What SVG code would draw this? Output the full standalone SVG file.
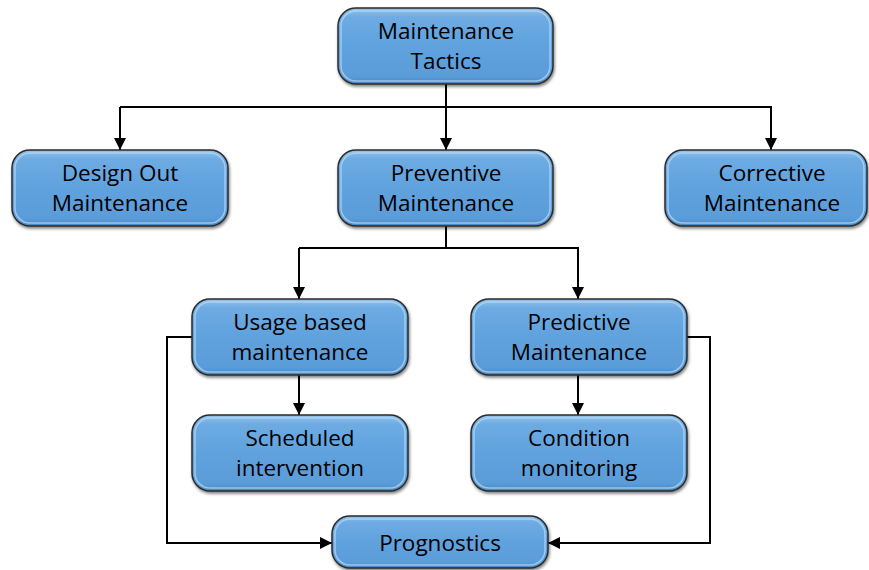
<svg xmlns="http://www.w3.org/2000/svg" width="869" height="570" viewBox="0 0 869 570">
  <defs>
    <linearGradient id="boxFill" x1="0" y1="0" x2="0" y2="1">
      <stop offset="0" stop-color="#93c3ec"/>
      <stop offset="0.12" stop-color="#6eabe2"/>
      <stop offset="0.5" stop-color="#5fa2de"/>
      <stop offset="0.9" stop-color="#5a9cd9"/>
      <stop offset="1" stop-color="#4a85bd"/>
    </linearGradient>
    <filter id="shadow" x="-10%" y="-20%" width="120%" height="150%">
      <feGaussianBlur in="SourceAlpha" stdDeviation="1.5"/>
      <feOffset dx="1" dy="2" result="blur"/>
      <feComponentTransfer><feFuncA type="linear" slope="0.5"/></feComponentTransfer>
      <feMerge><feMergeNode/><feMergeNode in="SourceGraphic"/></feMerge>
    </filter>
    <marker id="arrow" viewBox="0 0 12 12" refX="12" refY="6" markerWidth="12" markerHeight="12" markerUnits="userSpaceOnUse" orient="auto">
      <path d="M0,0 L12,6 L0,12 Z" fill="#000"/>
    </marker>
  </defs>
  <style>
    .box { fill: url(#boxFill); stroke: #2b2b2b; stroke-width: 1.5; filter: url(#shadow); }
    .hl { fill: none; stroke: #b9dcf7; stroke-width: 1.5; opacity: 0.7; }
    .lbl { font-family: "Open Sans", "Liberation Sans", sans-serif; font-size: 22.5px; fill: #000; text-anchor: middle; }
    .wire { fill: none; stroke: #000; stroke-width: 2; }
  </style>

  <g id="connectors">
    <polyline class="wire" points="446,84 446,107"/>
    <polyline class="wire" points="120,107 771,107 771,150" marker-end="url(#arrow)"/>
    <line class="wire" x1="120" y1="107" x2="120" y2="150" marker-end="url(#arrow)"/>
    <line class="wire" x1="446" y1="107" x2="446" y2="150" marker-end="url(#arrow)"/>
    <polyline class="wire" points="446,226 446,248"/>
    <polyline class="wire" points="299,248 578,248 578,299" marker-end="url(#arrow)"/>
    <line class="wire" x1="299" y1="248" x2="299" y2="299" marker-end="url(#arrow)"/>
    <line class="wire" x1="299" y1="375" x2="299" y2="415" marker-end="url(#arrow)"/>
    <line class="wire" x1="578" y1="375" x2="578" y2="415" marker-end="url(#arrow)"/>
    <polyline class="wire" points="192,337 167,337 167,543 332,543" marker-end="url(#arrow)"/>
    <polyline class="wire" points="687,337 710,337 710,543 548,543" marker-end="url(#arrow)"/>
  </g>

  <g id="maintenance-tactics">
    <rect class="box" x="338" y="8" width="215" height="76" rx="18"/>
    <rect class="hl" x="341" y="11" width="209" height="70" rx="15"/>
    <text class="lbl" x="446" y="39">Maintenance</text>
    <text class="lbl" x="446" y="69">Tactics</text>
  </g>

  <g id="design-out">
    <rect class="box" x="12" y="150" width="216" height="76" rx="18"/>
    <rect class="hl" x="15" y="153" width="210" height="70" rx="15"/>
    <text class="lbl" x="120" y="181">Design Out</text>
    <text class="lbl" x="120" y="211">Maintenance</text>
  </g>

  <g id="preventive">
    <rect class="box" x="338" y="150" width="215" height="76" rx="18"/>
    <rect class="hl" x="341" y="153" width="209" height="70" rx="15"/>
    <text class="lbl" x="446" y="181">Preventive</text>
    <text class="lbl" x="446" y="211">Maintenance</text>
  </g>

  <g id="corrective">
    <rect class="box" x="665" y="150" width="202" height="76" rx="18"/>
    <rect class="hl" x="668" y="153" width="196" height="70" rx="15"/>
    <text class="lbl" x="772" y="181">Corrective</text>
    <text class="lbl" x="772" y="211">Maintenance</text>
  </g>

  <g id="usage-based">
    <rect class="box" x="192" y="299" width="216" height="76" rx="18"/>
    <rect class="hl" x="195" y="302" width="210" height="70" rx="15"/>
    <text class="lbl" x="300" y="330">Usage based</text>
    <text class="lbl" x="300" y="360">maintenance</text>
  </g>

  <g id="predictive">
    <rect class="box" x="471" y="299" width="216" height="76" rx="18"/>
    <rect class="hl" x="474" y="302" width="210" height="70" rx="15"/>
    <text class="lbl" x="579" y="330">Predictive</text>
    <text class="lbl" x="579" y="360">Maintenance</text>
  </g>

  <g id="scheduled">
    <rect class="box" x="192" y="415" width="216" height="76" rx="18"/>
    <rect class="hl" x="195" y="418" width="210" height="70" rx="15"/>
    <text class="lbl" x="300" y="446">Scheduled</text>
    <text class="lbl" x="300" y="476">intervention</text>
  </g>

  <g id="condition">
    <rect class="box" x="471" y="415" width="216" height="76" rx="18"/>
    <rect class="hl" x="474" y="418" width="210" height="70" rx="15"/>
    <text class="lbl" x="579" y="446">Condition</text>
    <text class="lbl" x="579" y="476">monitoring</text>
  </g>

  <g id="prognostics">
    <rect class="box" x="332" y="516" width="216" height="52" rx="18"/>
    <rect class="hl" x="335" y="519" width="210" height="46" rx="15"/>
    <text class="lbl" x="440" y="551">Prognostics</text>
  </g>
</svg>
